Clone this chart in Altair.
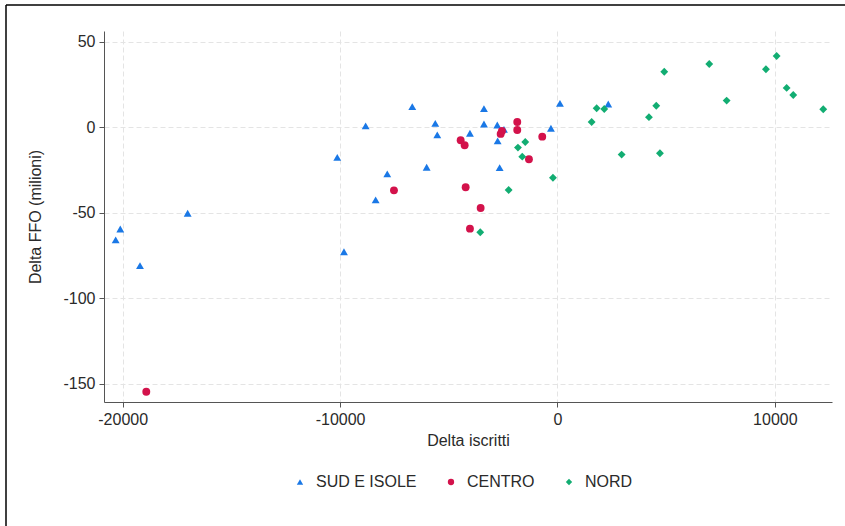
import altair as alt
import pandas as pd

# Change in enrolled students vs change in FFO funding (millions), by macro-area
sud_x = [-20323, -20111, -19205, -17011, -10129, -9821, -8823, -8363, -7829, -6679,
         -6017, -5621, -5529, -4025, -3381, -3381, -2769, -2751, -2659, -2461,
         -299, 115, 2337]
sud_y = [-65.9, -59.5, -80.9, -50.3, -17.6, -72.8, 0.8, -42.5, -27.3, 12.1,
         -23.4, 2.3, -4.5, -3.5, 10.9, 1.9, 1.3, -8.0, -23.6, -1.2,
         -0.6, 14.0, 13.6]

centro_x = [-18915, -7521, -4453, -4269, -4223, -4025, -3533, -2613, -2553, -1849,
            -1849, -1311, -699]
centro_y = [-154.7, -36.9, -7.6, -10.5, -35.1, -59.3, -47.2, -3.9, -2.2, 3.1,
            -1.6, -18.7, -5.5]

nord_x = [-3551, -2245, -1817, -1481, -1619, -207, 1573, 1803, 2153, 2953,
          4209, 4545, 4715, 4913, 6983, 7783, 9591, 10083, 10543, 10847, 12227]
nord_y = [-61.4, -36.7, -11.9, -8.6, -17.2, -29.5, 3.1, 11.1, 10.7, -16.0,
          5.9, 12.6, -15.2, 32.5, 37.0, 15.6, 33.9, 41.7, 23.0, 18.9, 10.5]

areas = ["SUD E ISOLE", "CENTRO", "NORD"]
colors = ["#1a78e6", "#d3124b", "#12ad72"]
shapes = ["triangle-up", "circle", "diamond"]

x_ticks = [-20000, -10000, 0, 10000]
y_ticks = [-150, -100, -50, 0, 50]

rows = []
for area, xs, ys in zip(areas, [sud_x, centro_x, nord_x], [sud_y, centro_y, nord_y]):
    for x, y in zip(xs, ys):
        rows.append({"iscritti": x, "ffo": y, "area": area})
df = pd.DataFrame(rows)

FONT = "Liberation Sans, Arial, sans-serif"
W, H = 728, 371
LEFT, TOP = 104, 31

points = alt.Chart(df).mark_point(filled=True, size=62, opacity=1).encode(
    x=alt.X("iscritti:Q",
            title="Delta iscritti",
            scale=alt.Scale(domain=[-20860, 12630], nice=False, zero=False),
            axis=alt.Axis(values=x_ticks, labelExpr="datum.value + ''",
                          titleY=38, titleBaseline="middle")),
    y=alt.Y("ffo:Q",
            title="Delta FFO (milioni)",
            scale=alt.Scale(domain=[-160.7, 56.3], nice=False, zero=False),
            axis=alt.Axis(values=y_ticks, labelExpr="datum.value + ''",
                          titleX=-69, titleBaseline="middle")),
    color=alt.Color("area:N", scale=alt.Scale(domain=areas, range=colors),
                    legend=alt.Legend(title=None, orient="none", direction="horizontal",
                                      legendX=188, legendY=443)),
    shape=alt.Shape("area:N", scale=alt.Scale(domain=areas, range=shapes)),
)

# outer frame lines (left and top edges)
frame_left = alt.Chart().mark_rule(color="#000000", strokeWidth=1.5).encode(
    x=alt.value(6 - LEFT), y=alt.value(5 - TOP), y2=alt.value(526 - TOP))
frame_top = alt.Chart().mark_rule(color="#000000", strokeWidth=1.5).encode(
    x=alt.value(6 - LEFT), x2=alt.value(845 - LEFT), y=alt.value(5 - TOP))

chart = alt.layer(frame_left, frame_top, points).properties(
    width=W, height=H,
    autosize=alt.AutoSizeParams(type="none"),
    padding={"left": LEFT, "top": TOP, "right": 845 - LEFT - W, "bottom": 526 - TOP - H},
    background="white",
).configure_view(stroke=None).configure_axis(
    labelFont=FONT, titleFont=FONT, labelFontSize=16, titleFontSize=16,
    labelColor="#2a2a2a", titleColor="#2a2a2a", titleFontWeight="normal",
    domainColor="#555555", tickColor="#555555", tickSize=5, labelPadding=4,
    grid=True, gridColor="#e4e4e4", gridDash=[5, 3], gridWidth=1,
).configure_legend(
    labelFont=FONT, labelFontSize=16, labelColor="#2a2a2a",
    symbolSize=40, labelOffset=8, columnPadding=26, symbolStrokeWidth=0,
)

chart.save("out.html", embed_options={"renderer": "svg", "actions": False})
